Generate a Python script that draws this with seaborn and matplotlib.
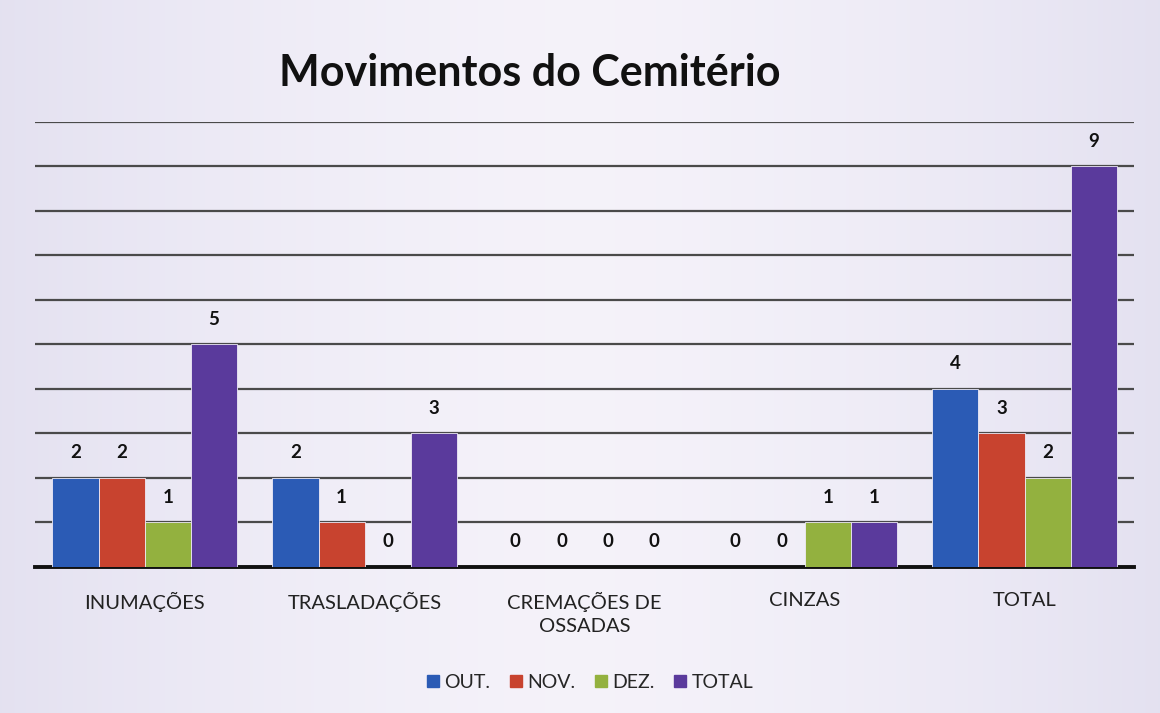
import pandas as pd
import numpy as np
import matplotlib.pyplot as plt
import seaborn as sns

# ------------------------------
# Data
# ------------------------------
categorias = ["INUMAÇÕES", "TRASLADAÇÕES", "CREMAÇÕES DE\nOSSADAS", "CINZAS", "TOTAL"]
meses = ["OUT.", "NOV.", "DEZ.", "TOTAL"]
out_vals = [2, 2, 0, 0, 4]
nov_vals = [2, 1, 0, 0, 3]
dez_vals = [1, 0, 0, 1, 2]
total_vals = [5, 3, 0, 1, 9]

cores = ["#2b5bb5", "#c8432f", "#93b13f", "#5a3a9c"]

rows = []
for mes, vals in zip(meses, [out_vals, nov_vals, dez_vals, total_vals]):
    for cat, v in zip(categorias, vals):
        rows.append({"categoria": cat, "mes": mes, "valor": v})
df = pd.DataFrame(rows)

# ------------------------------
# Plot
# ------------------------------
sns.set_theme(style="white")
plt.rcParams["font.family"] = ["Lato", "DejaVu Sans"]

fig = plt.figure(figsize=(11.6, 7.13), dpi=100)
fig.patch.set_facecolor("#e1ddef")

# soft background gradient (lighter in the middle)
grad = np.linspace(-1, 1, 400)
g = 1 - 0.6 * np.abs(grad) ** 1.5
bg = np.ones((10, 400, 3))
base = np.array([0.85, 0.84, 0.92])
light = np.array([0.96, 0.95, 0.98])
for i in range(3):
    bg[:, :, i] = base[i] + (light[i] - base[i]) * g
bg_ax = fig.add_axes([0, 0, 1, 1], zorder=-10)
bg_ax.imshow(bg, aspect="auto", extent=[0, 1, 0, 1])
bg_ax.axis("off")

ax = fig.add_axes([0.030, 0.205, 0.948, 0.624])
ax.set_facecolor("none")

sns.barplot(data=df, x="categoria", y="valor", hue="mes", hue_order=meses,
            palette=cores, width=0.84, gap=0, saturation=1, ax=ax, zorder=3,
            edgecolor="#eeeaf6", linewidth=0.6)

ax.set_ylim(0, 10)
ax.set_xlim(-0.5, len(categorias) - 0.5)
ax.set_yticks(range(1, 11))
ax.yaxis.grid(True, color="#4a4a4a", linewidth=1.6)
ax.set_axisbelow(True)
ax.tick_params(axis="y", left=False, labelleft=False)
ax.tick_params(axis="x", bottom=False, labelsize=14.5, pad=12, colors="#222222")
for lab in ax.get_xticklabels():
    lab.set_linespacing(1.45)
ax.set_xlabel("")
ax.set_ylabel("")
for s in ["left", "right", "top"]:
    ax.spines[s].set_visible(False)
ax.spines["bottom"].set_color("#111111")
ax.spines["bottom"].set_linewidth(2.8)

# value labels
for cont in ax.containers:
    for bar in cont:
        h = bar.get_height()
        ax.annotate(f"{int(h)}", (bar.get_x() + bar.get_width() / 2, h),
                    xytext=(0, 12), textcoords="offset points",
                    ha="center", va="bottom", fontsize=13.5, fontweight="bold",
                    color="#111111")

ax.legend_.remove()
handles = [plt.Line2D([], [], marker="s", linestyle="", markersize=8, color=c) for c in cores]
fig.legend(handles, meses, loc="center", bbox_to_anchor=(0.508, 0.043), ncol=4,
           frameon=False, fontsize=14, handlelength=0.8, handletextpad=0.2,
           columnspacing=0.9)

fig.text(0.457, 0.898, "Movimentos do Cemitério", ha="center", va="center",
         fontsize=31, fontweight="bold", color="#111111")

plt.savefig("out.png", dpi=100, facecolor=fig.get_facecolor())
plt.close()
